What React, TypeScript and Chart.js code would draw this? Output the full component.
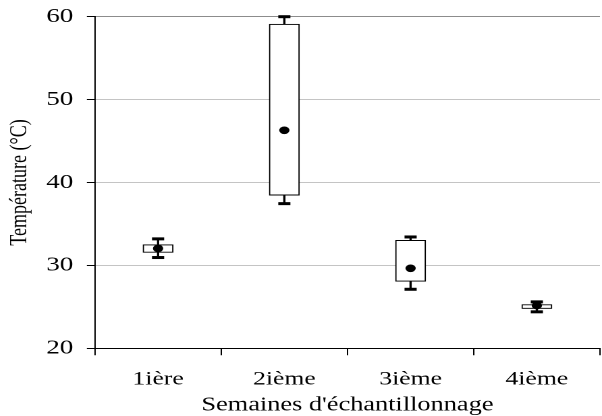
import React, { useEffect, useRef } from 'react';
import { Chart, registerables } from 'chart.js';

Chart.register(...registerables);

// ---- data ----
const categories = ['1ière', '2ième', '3ième', '4ième'];
const whiskerLow = [30.95, 37.45, 27.12, 24.4];
const boxLow = [31.56, 38.47, 28.08, 24.8];
const boxHigh = [32.5, 59.1, 33.03, 25.27];
const whiskerHigh = [33.2, 60.0, 33.43, 25.6];
const means = [32.05, 46.3, 29.65, 25.15];
const yMin = 20;
const yMax = 60;
const yStep = 10;
const xTitle = "Semaines d'échantillonnage";
const yTitle = 'Température (°C)';

const FONT = "'Liberation Serif', 'Times New Roman', serif";
const STRETCH = 1.35;
const CW = 446;
const CH = 408;

export default function App() {
  const ref = useRef<HTMLCanvasElement | null>(null);

  useEffect(() => {
    document.documentElement.style.overflow = 'hidden';
    document.body.style.overflow = 'hidden';
    if (!ref.current) return;
    const chart = new Chart(ref.current, {
      type: 'bar',
      data: {
        labels: categories,
        datasets: [
          {
            type: 'bar',
            label: 'box',
            data: categories.map((_, i) => [boxLow[i], boxHigh[i]]) as any,
            backgroundColor: '#ffffff',
            borderColor: '#000000',
            borderWidth: 1,
            borderSkipped: false,
            barThickness: 22.2,
            grouped: false,
            order: 2,
          } as any,
          {
            type: 'bar',
            label: 'whisker',
            data: categories.map((_, i) => [whiskerLow[i], whiskerHigh[i]]) as any,
            backgroundColor: '#000000',
            borderWidth: 0,
            barThickness: 1,
            grouped: false,
            order: 3,
          } as any,
          {
            type: 'line',
            label: 'capHigh',
            data: whiskerHigh,
            showLine: false,
            pointStyle: 'line',
            pointRadius: 4.5,
            pointBorderWidth: 3,
            pointBorderColor: '#000000',
            clip: false,
            order: 1,
          } as any,
          {
            type: 'line',
            label: 'capLow',
            data: whiskerLow,
            showLine: false,
            pointStyle: 'line',
            pointRadius: 4.5,
            pointBorderWidth: 3,
            pointBorderColor: '#000000',
            clip: false,
            order: 1,
          } as any,
          {
            type: 'line',
            label: 'mean',
            data: means,
            showLine: false,
            pointStyle: 'circle',
            pointRadius: 3.8,
            pointBorderWidth: 0,
            pointBackgroundColor: '#000000',
            clip: false,
            order: 0,
          } as any,
        ],
      },
      options: {
        responsive: false,
        animation: false,
        devicePixelRatio: 2,
        events: [],
        layout: { padding: { top: 8.7, right: 3.3, bottom: 0, left: 0 } },
        plugins: {
          legend: { display: false },
          tooltip: { enabled: false },
          title: { display: false },
        },
        scales: {
          x: {
            type: 'category',
            offset: true,
            grid: {
              offset: true,
              drawOnChartArea: false,
              tickLength: 7,
              tickColor: '#000000',
              color: '#000000',
            },
            border: { color: '#000000', width: 1 },
            ticks: {
              color: '#000000',
              font: { family: FONT, size: 19 },
              padding: 13,
              maxRotation: 0,
              autoSkip: false,
            },
            title: {
              display: true,
              text: xTitle,
              color: '#000000',
              font: { family: FONT, size: 19.5, lineHeight: 1.1 },
              padding: 0,
            },
            afterFit: (s: any) => {
              s.height = 67.7;
              s.paddingLeft = 0;
              s.paddingRight = 0;
            },
          },
          y: {
            min: yMin,
            max: yMax,
            grid: {
              color: (ctx: any) => {
                const v = ctx.tick ? ctx.tick.value : null;
                if (v === yMax) return '#8c8c8c';
                if (v === yMin) return '#000000';
                return '#c4c4c4';
              },
              tickColor: '#000000',
              tickLength: 6,
              lineWidth: 1,
            },
            border: { color: '#000000', width: 1 },
            ticks: {
              stepSize: yStep,
              color: '#000000',
              font: { family: FONT, size: 20, lineHeight: 0.8 },
              padding: 10,
            },
            title: {
              display: true,
              text: yTitle,
              color: '#000000',
              font: { family: FONT, size: 18, lineHeight: 1.0 },
              padding: 0,
            },
            afterFit: (s: any) => {
              s.width = 64.4;
              s.paddingTop = 0;
              s.paddingBottom = 0;
            },
          },
        },
      } as any,
    });
    return () => chart.destroy();
  }, []);

  return (
    <div
      style={{
        position: 'fixed',
        left: 0,
        top: 0,
        width: 602,
        height: 416,
        overflow: 'hidden',
        background: '#ffffff',
      }}
    >
      <div
        style={{
          position: 'absolute',
          left: 8,
          top: 8,
          width: CW,
          height: CH,
          transform: `scaleX(${STRETCH})`,
          transformOrigin: '0 0',
        }}
      >
        <canvas ref={ref} width={CW} height={CH} style={{ display: 'block' }} />
      </div>
    </div>
  );
}
